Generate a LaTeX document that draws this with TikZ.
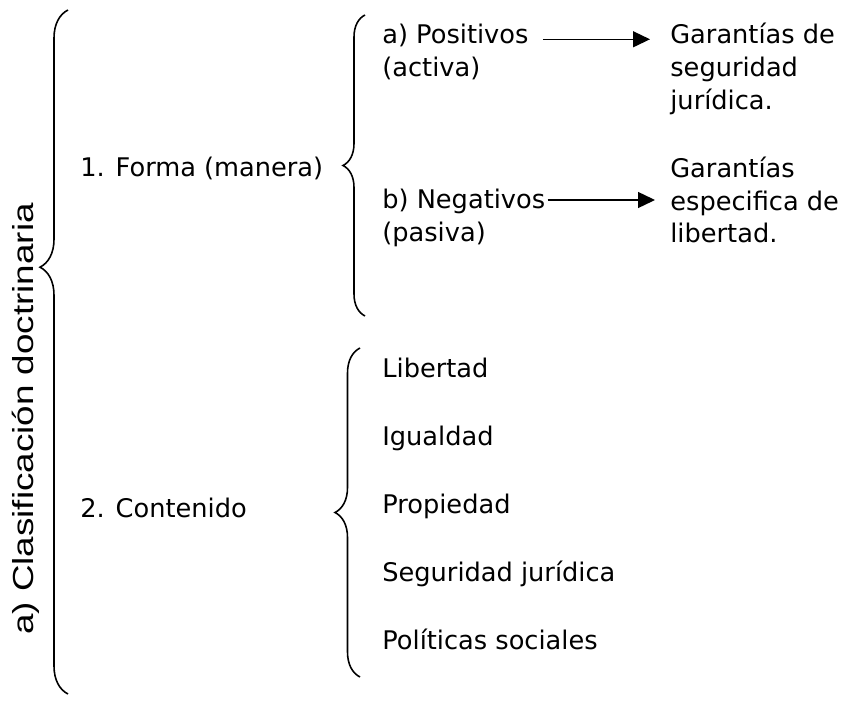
\documentclass[tikz,border=0pt]{standalone}
\usepackage{fontspec}
\setmainfont{DejaVu Sans}
\newfontfamily\rotfont[FakeStretch=1.27]{Liberation Sans}
\usetikzlibrary{arrows.meta, decorations.pathreplacing}

\begin{document}
\begin{tikzpicture}[
    x=0.02cm, y=-0.02cm,
    font=\fontsize{14.6}{18.7}\selectfont,
    txt/.style={anchor=west, inner sep=0pt, align=left},
    entry/.style={anchor=base west, inner sep=0pt},
    line/.style={-{Triangle[length=0.34cm, width=0.32cm]}, line width=0.75pt},
    grouping/.style={decorate, line width=0.9pt, decoration={brace, amplitude=#1}}
  ]
  \useasboundingbox (0,0) rectangle (841,702);

  % ===================== titulo =====================
  \node[rotate=90, anchor=base, inner sep=0pt, font=\rotfont\fontsize{16.5}{20}\selectfont]
    (clasif) at (33,419) {a) Clasificación doctrinaria};

  % ===================== primer nivel =====================
  \node[entry] (forma) at (80,177) {1. Forma (manera)};
  \node[entry] (contenido) at (80,517) {2. Contenido};

  % ===================== forma =====================
  \node[txt] (posA) at (382,52) {a) Positivos\\(activa)};
  \node[txt] (negB) at (382,218) {b) Negativos\\(pasiva)};
  \node[txt] (garA) at (670,69) {Garantías de\\seguridad\\jurídica.};
  \node[txt] (garB) at (670,200) {Garantías\\especifica de\\libertad.};

  % ===================== contenido =====================
  \node[entry] (libertad) at (382,377) {Libertad};
  \node[entry] (igualdad) at (382,445) {Igualdad};
  \node[entry] (propiedad) at (382,513) {Propiedad};
  \node[entry] (seguridad) at (382,581) {Seguridad jurídica};
  \node[entry] (politicas) at (382,649) {Políticas sociales};

  % ===================== llaves =====================
  \coordinate (bigTop) at (68,10);
  \coordinate (bigBot) at (68,694);
  \coordinate (formaTop) at (365,15);
  \coordinate (formaBot) at (365,316);
  \coordinate (contTop) at (360,348);
  \coordinate (contBot) at (360,677);

  \draw[grouping=0.56cm, decoration={aspect=0.624}] (bigBot) -- (bigTop);
  \draw[grouping=0.44cm] (formaBot) -- (formaTop);
  \draw[grouping=0.5cm] (contBot) -- (contTop);

  % ===================== flechas =====================
  \draw[line] ([xshift=0.28cm, yshift=-0.31cm]posA.north east) -- ([xshift=-0.4cm, yshift=-0.31cm]posA.north east -| garA.west);
  \draw[line] ([xshift=0.04cm]negB.north east |- garB.west) -- ([xshift=-0.3cm]garB.west);

\end{tikzpicture}
\end{document}
